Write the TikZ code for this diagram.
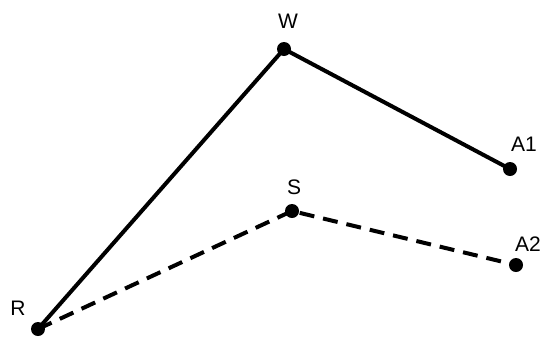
\documentclass[tikz,border=0pt]{standalone}
\usepackage{fontspec}
\setmainfont{Liberation Sans}
\begin{document}
\begin{tikzpicture}[x=1pt,y=-1pt,
  pt/.style={circle,fill=black,inner sep=0pt,minimum size=14pt},
  lbl/.style={font=\fontsize{21}{21}\selectfont,inner sep=0pt},
  solidline/.style={line width=4pt},
  dashline/.style={line width=4pt,dash pattern=on 15pt off 9pt}]
\useasboundingbox (0,0) rectangle (546,338);
\node[pt] (R) at (38,329) {};
\node[pt] (W) at (284,49) {};
\node[pt] (A1) at (510,169) {};
\node[pt] (S) at (292,211) {};
\node[pt] (A2) at (516,265) {};
\node[lbl] (lR) at (18,308) {R};
\node[lbl] (lW) at (288,21) {W};
\node[lbl] (lA1) at (524,144) {A1};
\node[lbl] (lS) at (294,187) {S};
\node[lbl] (lA2) at (528,244) {A2};
\draw[solidline] (R.center) -- (W.center) -- (A1.center);
\draw[dashline] (R.center) -- (S.center) -- (A2.center);
\end{tikzpicture}
\end{document}
